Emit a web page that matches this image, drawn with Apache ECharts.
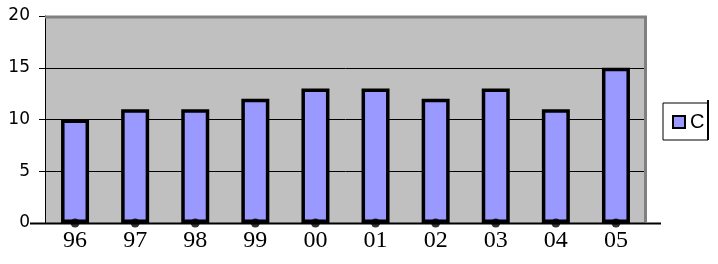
<!DOCTYPE html>
<html><head><meta charset="utf-8">
<script src="https://cdn.jsdelivr.net/npm/echarts@6/dist/echarts.min.js"></script>
<style>html,body{margin:0;padding:0;background:#fff}#c{width:718px;height:264px}</style>
</head><body><div id="c"></div>
<script>
const categories = ['96','97','98','99','00','01','02','03','04','05'];
const valuesC = [10, 11, 11, 12, 13, 13, 12, 13, 11, 15];
const baseDots = [0, 0, 0, 0, 0, 0, 0, 0, 0, 0];
const yTicks = { min: 0, max: 20, interval: 5 };

const chart = echarts.init(document.getElementById('c'), null, { renderer: 'canvas' });
const G = { left: 45, top: 16, right: 72, bottom: 41 };
chart.setOption({
  animation: false,
  backgroundColor: '#fff',
  grid: { left: G.left, top: G.top, right: G.right, bottom: G.bottom, show: true, backgroundColor: '#c0c0c0', borderWidth: 0 },
  legend: {
    data: [{ name: 'C', icon: 'rect' }],
    left: 663, top: 103,
    orient: 'vertical',
    backgroundColor: '#fff', borderColor: '#000', borderWidth: 1,
    padding: [9, 14, 8, 9],
    itemWidth: 12, itemHeight: 12, itemGap: 5,
    itemStyle: { color: '#9999ff', borderColor: '#000', borderWidth: 2 },
    textStyle: { fontFamily: 'Liberation Sans, Arial', fontSize: 20, color: '#000' }
  },
  xAxis: {
    type: 'category', data: categories,
    axisLine: { show: false }, axisTick: { show: false },
    axisLabel: { fontFamily: 'Liberation Serif, Times New Roman', fontSize: 24, color: '#000', margin: 6 },
    splitLine: { show: false }
  },
  yAxis: {
    type: 'value', min: yTicks.min, max: yTicks.max, interval: yTicks.interval,
    axisLine: { show: true, lineStyle: { color: '#000', width: 1 } },
    axisTick: { show: true, length: 6, lineStyle: { color: '#000' } },
    axisLabel: { fontFamily: 'DejaVu Sans', fontSize: 17, color: '#000', margin: 15 },
    splitLine: { show: true, lineStyle: { color: '#000', width: 1 } }
  },
  series: [
    {
      name: 'C', type: 'bar', data: valuesC, barWidth: 28,
      itemStyle: { color: '#9999ff', borderColor: '#000', borderWidth: 3.5 },
      z: 2
    },
    {
      name: 'dots', type: 'scatter', data: baseDots, symbol: 'circle', symbolSize: 9,
      itemStyle: { color: '#000' }, z: 5, silent: true
    }
  ],
  graphic: [
    { type: 'polyline', z: 10, shape: { points: [[45, 17], [645.5, 17], [645.5, 222]] }, style: { stroke: '#808080', lineWidth: 3, fill: null } },
    { type: 'line', z: 11, shape: { x1: 30, y1: 223.5, x2: 661, y2: 223.5 }, style: { stroke: '#000', lineWidth: 2 } },
    { type: 'rect', z: 100, zlevel: 1, shape: { x: 708, y: 95, width: 10, height: 50 }, style: { fill: '#fff' } },
    { type: 'line', z: 101, zlevel: 1, shape: { x1: 708, y1: 100, x2: 708, y2: 140 }, style: { stroke: '#000', lineWidth: 2 } }
  ]
});
</script></body></html>
